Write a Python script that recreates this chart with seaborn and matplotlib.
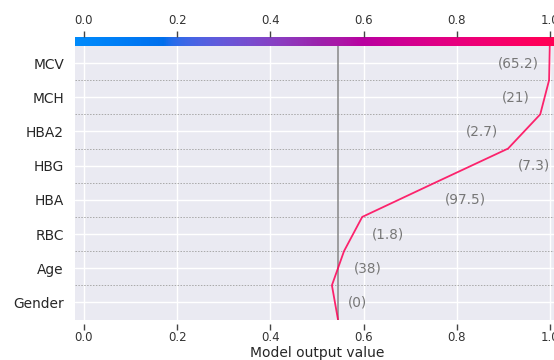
import numpy as np
import pandas as pd
import matplotlib
matplotlib.use("Agg")
import matplotlib.pyplot as plt
import matplotlib.transforms as mtransforms
from matplotlib.colors import LinearSegmentedColormap, Normalize
import seaborn as sns

# Features from top to bottom, with the observed feature values
features = ["MCV", "MCH", "HBA2", "HBG", "HBA", "RBC", "Age", "Gender"]
feature_values = ["65.2", "21", "2.7", "7.3", "97.5", "1.8", "38", "0"]
# SHAP contribution of each feature (same order as features)
contributions = [0.0015, 0.019, 0.069, 0.157, 0.156, 0.039, 0.026, -0.013]
base_value = 0.545
x_ticks = [0.0, 0.2, 0.4, 0.6, 0.8, 1.0]
x_limits = (-0.0193, 1.0193)


# ---- red/blue colour scale built in CIE LCh space ----
def lch_to_rgb(l, c, h):
    a, b = c * np.cos(h), c * np.sin(h)
    fy = (l + 16.0) / 116.0
    fx = fy + a / 500.0
    fz = fy - b / 200.0
    def finv(t):
        return np.where(t > 6 / 29, t ** 3, 3 * (6 / 29) ** 2 * (t - 4 / 29))
    xyz = np.array([finv(fx) * 0.95047, finv(fy) * 1.0, finv(fz) * 1.08883])
    m = np.array([[3.2406, -1.5372, -0.4986],
                  [-0.9689, 1.8758, 0.0415],
                  [0.0557, -0.2040, 1.0570]])
    lin = m @ xyz
    rgb = np.where(lin > 0.0031308, 1.055 * np.abs(lin) ** (1 / 2.4) - 0.055, 12.92 * lin)
    return np.clip(rgb, 0, 1)


blue_lch = [54.0, 70.0, 4.6588]
red_lch = [54.0, 90.0, 0.35470565 + 2 * np.pi]
l_mid = 40.0
nsteps = 100
l_vals = list(np.linspace(blue_lch[0], l_mid, nsteps // 2)) + list(np.linspace(l_mid, red_lch[0], nsteps // 2))
c_vals = np.linspace(blue_lch[1], red_lch[1], nsteps)
h_vals = np.linspace(blue_lch[2], red_lch[2], nsteps)
colors = [lch_to_rgb(l, c, h) for l, c, h in zip(l_vals, c_vals, h_vals)]
red_blue = LinearSegmentedColormap.from_list("red_blue", list(zip(np.linspace(0, 1, nsteps), colors)))

# ---- data table: cumulative model output from bottom to top ----
contrib_bottom_up = contributions[::-1]
cumulative = np.concatenate([[base_value], base_value + np.cumsum(contrib_bottom_up)])
n = len(features)
df = pd.DataFrame({"output": cumulative, "position": np.arange(n + 1)})

sns.set_theme(style="darkgrid")
plt.rcParams["font.family"] = ["DejaVu Sans"]

fig = plt.figure(figsize=(5.54, 3.60), dpi=100)
ax = fig.add_axes([75 / 554, 40.5 / 360, 484 / 554, 273.5 / 360])
cax = fig.add_axes([75 / 554, 314 / 360, 484 / 554, 9 / 360])

line_color = red_blue(Normalize(*x_limits)(cumulative[-1]))

# dotted separators between feature rows
for i in range(n):
    ax.axhline(i, linestyle=(0, (1.5, 1.5)), color="#a8a8a8", linewidth=0.7, zorder=1)
ax.axvline(base_value, color="#888888", linewidth=1.1, zorder=1.5)

sns.lineplot(data=df, x="output", y="position", orient="y", sort=False,
             estimator=None, color=line_color, alpha=0.85, linewidth=1.3, ax=ax, zorder=3)

ax.set_xlim(*x_limits)
ax.set_ylim(0, n)
ax.set_yticks(np.arange(n) + 0.5)
ax.set_yticklabels(features[::-1])
ax.set_xticks(x_ticks)
ax.set_xticklabels([f"{t:.1f}" for t in x_ticks])
for s in ax.spines.values():
    s.set_visible(False)
ax.spines["bottom"].set_position(("outward", 3))
ax.tick_params(axis="x", bottom=True, length=4, width=1, color="#444444",
               pad=1.5, labelsize=8.5, labelcolor="#333333")
ax.tick_params(axis="y", left=False, length=0, pad=8, labelsize=9.9, labelcolor="#262626")
ax.set_xlabel("Model output value", fontsize=10, color="#262626", labelpad=1.5)
ax.set_ylabel("")

# colour bar above the plot, with the top value axis
gradient = np.linspace(0, 1, 512)[None, :]
cax.imshow(gradient, aspect="auto", cmap=red_blue,
           extent=[x_limits[0], x_limits[1], 0, 1])
cax.set_xlim(*x_limits)
cax.set_ylim(0, 1)
cax.grid(False)
for s in cax.spines.values():
    s.set_visible(False)
cax.set_yticks([])
cax.set_xticks(x_ticks)
cax.set_xticklabels([f"{t:.1f}" for t in x_ticks])
cax.tick_params(axis="x", top=True, labeltop=True, bottom=False, labelbottom=False,
                length=4, width=1, color="#444444", pad=3, labelsize=8.5,
                labelcolor="#333333")

# feature values next to each segment
fig.canvas.draw()
renderer = fig.canvas.get_renderer()
right_px = ax.transData.transform((x_limits[1], 0))[0]
margin = 10
vals_bottom_up = feature_values[::-1]
for k in range(n):
    lo = min(cumulative[k], cumulative[k + 1])
    hi = max(cumulative[k], cumulative[k + 1])
    trans = mtransforms.offset_copy(ax.transData, fig=fig, x=margin, y=0, units="dots")
    t = ax.text(hi, k + 0.5, f"({vals_bottom_up[k]})", ha="left", va="center",
                fontsize=9.8, color="#777777", transform=trans, zorder=4)
    bb = t.get_window_extent(renderer=renderer)
    if bb.x1 > right_px:
        t.set_position((lo, k + 0.5))
        t.set_ha("right")
        t.set_transform(mtransforms.offset_copy(ax.transData, fig=fig, x=-margin, y=0, units="dots"))

fig.savefig("out.png", dpi=100)
